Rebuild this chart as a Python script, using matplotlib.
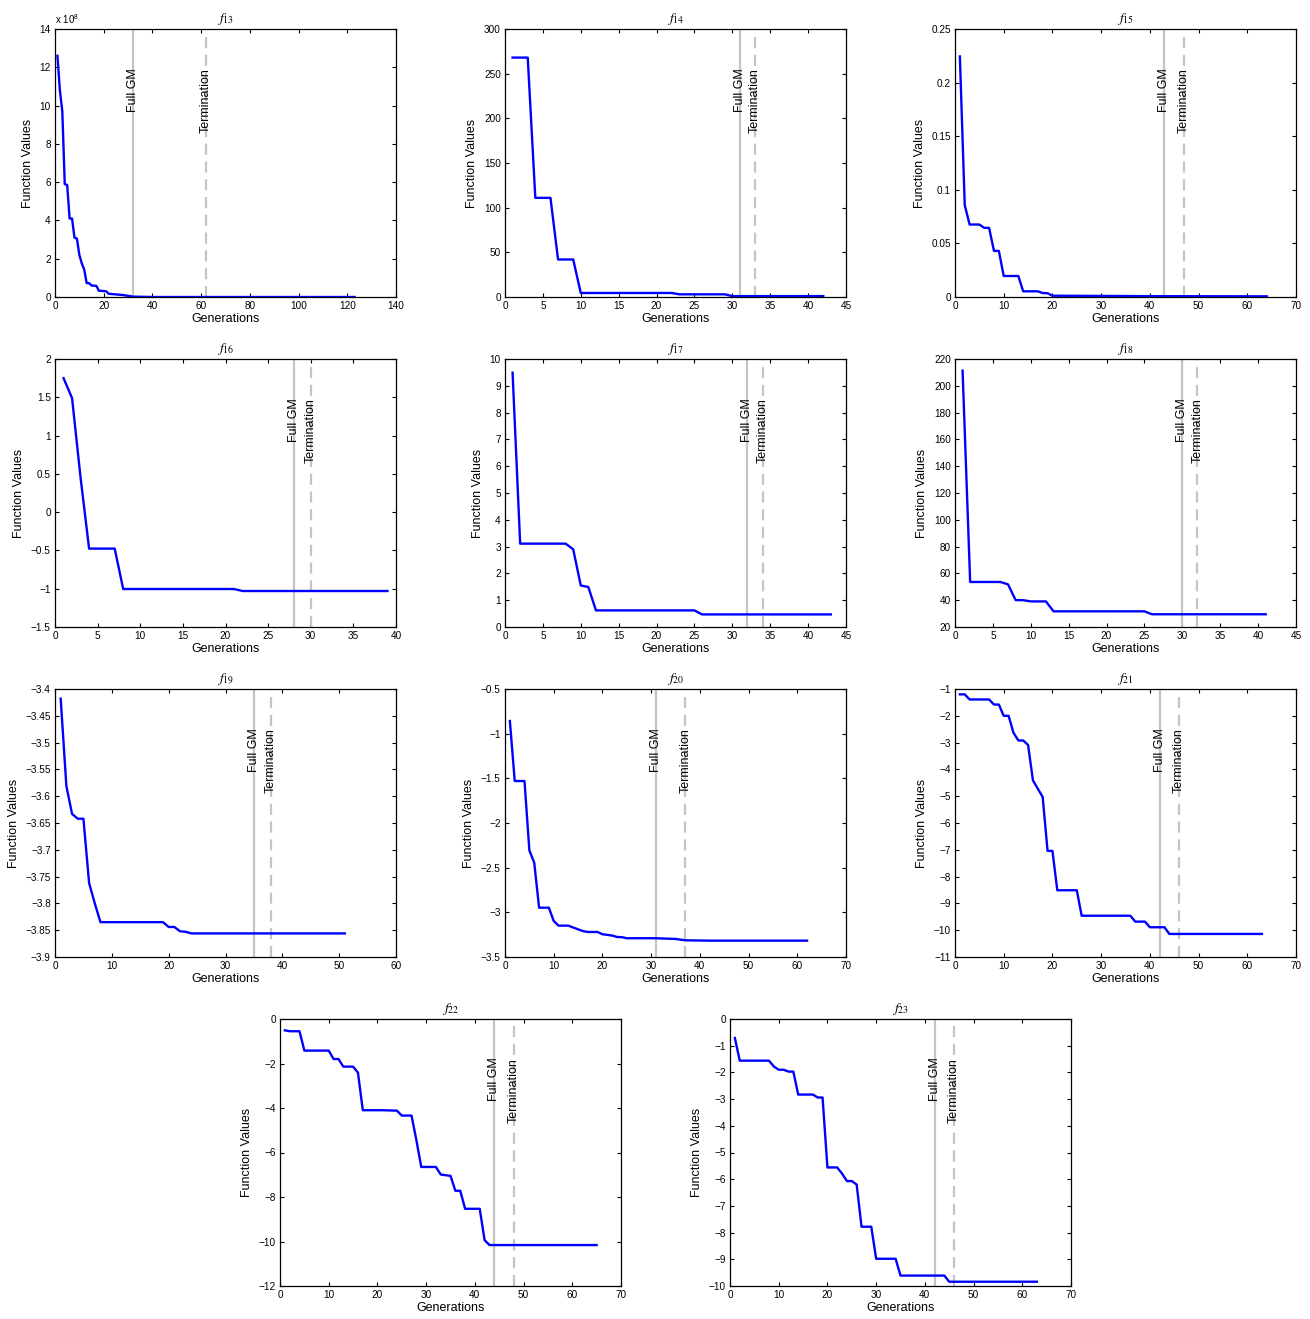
"""
Convergence curves f13..f23 (best function value per generation),
with the generation of the full GM hit and of termination marked.
"""

import matplotlib
matplotlib.use("Agg")
import matplotlib.pyplot as plt
from matplotlib.ticker import FuncFormatter, MultipleLocator

plt.rcParams["font.family"] = ["Liberation Sans", "DejaVu Sans"]
plt.rcParams["mathtext.fontset"] = "stix"

# =============================================================================
# data (vertices of each curve)
# =============================================================================
F13_X = [1, 2, 3, 4, 5, 6, 7, 8, 9, 10, 11, 12, 13, 14, 15, 17, 18, 21, 22, 28, 32, 40, 123]
F13_Y = [12.6e8, 10.8e8, 9.7e8, 5.9e8, 5.85e8, 4.1e8, 4.1e8, 3.1e8, 3.05e8, 2.2e8, 1.75e8,
         1.43e8, 0.73e8, 0.72e8, 0.6e8, 0.58e8, 0.33e8, 0.3e8, 0.17e8, 0.1e8, 0.02e8, 0.0, 0.0]

F14_X = [1, 3, 4, 6, 7, 9, 10, 22, 23, 29, 30, 42]
F14_Y = [268, 268, 111, 111, 42, 42, 4.5, 4.5, 3, 3, 1, 1]

F15_X = [1, 2, 3, 5, 6, 7, 8, 9, 10, 13, 14, 17, 18, 19, 20, 40, 64]
F15_Y = [0.2244, 0.0857, 0.0676, 0.0676, 0.0645, 0.0645, 0.043, 0.043, 0.0196, 0.0196,
         0.0053, 0.0053, 0.0037, 0.0035, 0.0012, 0.0008, 0.0006]

F16_X = [1, 2, 3, 4, 7, 8, 21, 22, 39]
F16_Y = [1.75, 1.49, 0.45, -0.476, -0.476, -1.004, -1.004, -1.03, -1.03]

F17_X = [1, 2, 8, 9, 10, 11, 12, 25, 26, 43]
F17_Y = [9.49, 3.11, 3.11, 2.9, 1.55, 1.49, 0.62, 0.62, 0.47, 0.47]

F18_X = [1, 2, 6, 7, 8, 9, 10, 12, 13, 25, 26, 41]
F18_Y = [211.3, 53.6, 53.6, 51.8, 40.1, 40.0, 39.1, 39.1, 31.7, 31.7, 29.5, 29.5]

F19_X = [1, 2, 3, 4, 5, 6, 7, 8, 19, 20, 21, 22, 23, 24, 51]
F19_Y = [-3.418, -3.581, -3.633, -3.642, -3.642, -3.762, -3.80, -3.835, -3.835,
         -3.844, -3.844, -3.852, -3.853, -3.856, -3.856]

F20_X = [1, 2, 4, 5, 6, 7, 9, 10, 11, 13, 14, 15, 16, 17, 19, 20, 22, 23, 24, 25, 31, 35,
         37, 42, 62]
F20_Y = [-0.858, -1.53, -1.53, -2.306, -2.444, -2.948, -2.948, -3.097, -3.149, -3.149,
         -3.17, -3.19, -3.21, -3.22, -3.22, -3.245, -3.26, -3.276, -3.278, -3.29, -3.29,
         -3.298, -3.313, -3.317, -3.317]

F21_X = [1, 2, 3, 7, 8, 9, 10, 11, 12, 13, 14, 15, 16, 17, 18, 19, 20, 21, 25, 26, 36, 37,
         39, 40, 43, 44, 63]
F21_Y = [-1.2, -1.2, -1.39, -1.39, -1.58, -1.58, -2.0, -2.0, -2.63, -2.92, -2.92, -3.09,
         -4.41, -4.72, -5.03, -7.04, -7.04, -8.51, -8.51, -9.46, -9.46, -9.68, -9.68,
         -9.89, -9.89, -10.14, -10.14]

F22_X = [1, 2, 4, 5, 10, 11, 12, 13, 15, 16, 17, 21, 24, 25, 27, 28, 29, 32, 33, 35, 36,
         37, 38, 41, 42, 43, 65]
F22_Y = [-0.51, -0.55, -0.55, -1.42, -1.42, -1.80, -1.80, -2.14, -2.14, -2.41, -4.10,
         -4.10, -4.12, -4.34, -4.34, -5.45, -6.65, -6.65, -6.99, -7.05, -7.72, -7.72,
         -8.53, -8.53, -9.94, -10.16, -10.16]

F23_X = [1, 2, 8, 9, 10, 11, 12, 13, 14, 17, 18, 19, 20, 22, 23, 24, 25, 26, 27, 29, 30,
         34, 35, 44, 45, 63]
F23_Y = [-0.71, -1.56, -1.56, -1.78, -1.90, -1.90, -1.97, -1.97, -2.83, -2.83, -2.94,
         -2.94, -5.56, -5.56, -5.79, -6.07, -6.07, -6.20, -7.78, -7.78, -8.98, -8.98,
         -9.61, -9.61, -9.84, -9.84]

NAMES = ["13", "14", "15", "16", "17", "18", "19", "20", "21", "22", "23"]
FULL_GM = [32, 31, 43, 28, 32, 30, 35, 31, 42, 44, 42]
TERMINATION = [62, 33, 47, 30, 34, 32, 38, 37, 46, 48, 46]

# axis ranges and tick steps
XLIMS = [(0, 140), (0, 45), (0, 70), (0, 40), (0, 45), (0, 45), (0, 60), (0, 70), (0, 70), (0, 70), (0, 70)]
XSTEPS = [20, 5, 10, 5, 5, 5, 10, 10, 10, 10, 10]
YLIMS = [(0, 14e8), (0, 300), (0, 0.25), (-1.5, 2), (0, 10), (20, 220), (-3.9, -3.4),
         (-3.5, -0.5), (-11, -1), (-12, 0), (-10, 0)]
YSTEPS = [2e8, 50, 0.05, 0.5, 1, 20, 0.05, 0.5, 1, 2, 1]

SERIES = [(F13_X, F13_Y), (F14_X, F14_Y), (F15_X, F15_Y), (F16_X, F16_Y), (F17_X, F17_Y),
          (F18_X, F18_Y), (F19_X, F19_Y), (F20_X, F20_Y), (F21_X, F21_Y), (F22_X, F22_Y),
          (F23_X, F23_Y)]

W, H = 1310, 1319
GRAY = "#c4c4c4"
BLUE = "#0000ff"


def rect(left, top, w=341, h=268):
    return [left / W, (H - top - h) / H, w / W, h / H]


# 3 x 3 grid + 2 centred panels on the last row (pixel positions)
RECTS = [rect(l, t) for t in (29, 359, 689) for l in (55, 505, 955)]
RECTS += [rect(280, 1019, h=267), rect(730, 1019, h=267)]


def fmt(scale):
    def f(v, pos):
        s = "%g" % round(v / scale, 6)
        return s.replace("-", "\u2212")
    return FuncFormatter(f)


def draw_panel(ax, i):
    xs, ys = SERIES[i]
    scale = 1e8 if i == 0 else 1
    ax.axvline(FULL_GM[i], color=GRAY, lw=1.6)
    ax.axvline(TERMINATION[i], color=GRAY, lw=1.6, ls=(0, (5, 3)))
    ax.plot(xs, ys, color=BLUE, lw=1.7)

    tr = ax.get_xaxis_transform()
    ax.text(FULL_GM[i], 0.855, "Full GM", transform=tr, rotation=90,
            ha="center", va="top", fontsize=9)
    ax.text(TERMINATION[i], 0.855, "Termination", transform=tr, rotation=90,
            ha="center", va="top", fontsize=9)

    ax.set_xlim(*XLIMS[i])
    ax.set_ylim(*YLIMS[i])
    ax.xaxis.set_major_locator(MultipleLocator(XSTEPS[i]))
    ax.yaxis.set_major_locator(MultipleLocator(YSTEPS[i]))
    ax.xaxis.set_major_formatter(fmt(1))
    ax.yaxis.set_major_formatter(fmt(scale))
    ax.tick_params(direction="in", top=True, right=True, length=3, width=0.8,
                   labelsize=7.2, pad=3)
    for sp in ax.spines.values():
        sp.set_linewidth(0.9)

    ax.set_title(r"$f_{\mathit{%s}}$" % NAMES[i], fontsize=10, pad=5)
    ax.set_xlabel("Generations", fontsize=9, labelpad=1)
    ax.set_ylabel("Function Values", fontsize=9, labelpad=4)
    if i == 0:
        ax.text(0, 1.01, r"x 10$^{\mathregular{8}}$", transform=ax.transAxes,
                fontsize=7, ha="left", va="bottom")


def main():
    fig = plt.figure(figsize=(W / 100, H / 100), dpi=100)
    for i, r in enumerate(RECTS):
        ax = fig.add_axes(r)
        draw_panel(ax, i)
    fig.savefig("out.png", dpi=100)
    plt.close(fig)


if __name__ == "__main__":
    main()
